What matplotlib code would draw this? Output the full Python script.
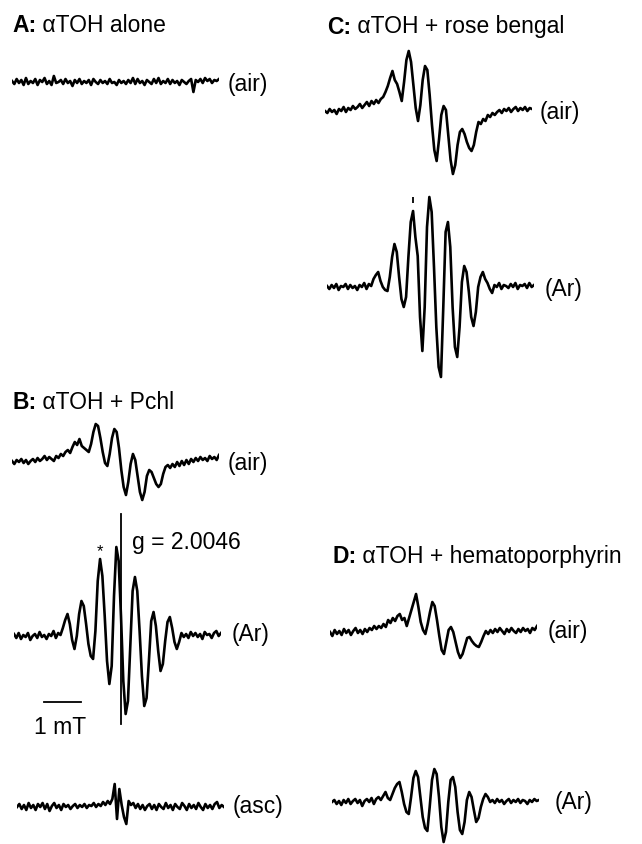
import numpy as np
import matplotlib
matplotlib.use('Agg')
from matplotlib import pyplot as plt

# ЭПР спектры, значения в px от базовой линии (вверх = +)
A_air = [1, -2, 3, -1, 2, -3, 4, -2, 1, -1, 3, -3, 2, 0, 4, -2, 1, -3, 6, -1,
         0, 2, -2, 3, -1, 1, -4, 2, -1, 3, -2, 1, -1, 2, -3, 3, 0, -2, 2, -1,
         1, -2, 3, -1, 0, -3, 2, -1, 1, -2, 2, -1, 4, -2, 3, -1, 1, -3, 2, 0,
         -2, 3, -1, 4, -2, 1, -1, 3, -2, 2, -1, 1, -3, 2, 0, -2, 1, 3, -10, 2,
         0, 3, -1, 4, 1, 3, -1, 2, 1, 3]

B_air = [1, -2, 2, 0, 3, -1, 2, -2, 1, 3, 0, 4, 1, 3, 6, 2, 5, 3, 1, 6,
         4, 8, 6, 10, 12, 9, 15, 20, 17, 23, 16, 14, 12, 10, 18, 30, 38, 36, 24, 10,
         -1, -4, 8, 24, 33, 30, 14, -8, -25, -33, -20, -2, 8, 2, -14, -30, -38, -30, -14, -8,
         -10, -16, -22, -25, -22, -12, -5, -3, -6, -2, -5, 0, -4, 1, -3, 2, -2, 3, 0, 4,
         1, 5, 2, 4, 1, 6, 3, 5, 2, 7]

B_Ar = [2, -2, 3, -3, 1, -1, 3, -4, 0, 2, -2, 4, -1, 1, -3, 2, 0, 5, -2, 3,
        1, 8, 16, 22, 12, -4, -13, 0, 22, 35, 30, 12, -8, -20, -23, 5, 55, 77, 60, 20,
        -25, -48, -30, 40, 89, 75, 20, -45, -78, -65, -10, 45, 59, 45, 5, -40, -70, -62, -25, 15,
        24, 10, -15, -35, -28, -5, 14, 19, 8, -6, -13, -6, 3, -1, 2, -2, 4, 0, 3, -1,
        2, -3, 4, 1, 2, -2, 3, 5, 0, 3]

B_asc = [0, 3, -2, 2, -3, 4, -1, 2, -3, 3, 0, 4, -2, 3, -4, 1, 4, -1, 2, -3,
         3, 0, 2, -2, 1, 3, -1, 2, 0, 3, -1, 2, 1, 4, 0, 3, 1, 5, 2, 6,
         3, 8, 23, -12, 18, 2, -10, -17, 6, 2, 4, -1, 3, -2, 2, -3, 1, 3, -2, 2,
         -3, 3, 0, -2, 4, -1, 2, -3, 3, 0, -2, 4, 1, -3, 3, -1, 2, -2, 4, 0,
         -3, 3, -1, 2, -2, 3, 5, -1, 2, 0]

C_air = [-1, -3, 1, -2, 0, -4, 1, -1, 3, -2, 2, 0, 4, 1, 3, 6, 2, 5, 8, 4,
         9, 6, 10, 7, 11, 13, 18, 24, 32, 39, 30, 26, 18, 9, 28, 50, 59, 48, 25, 2,
         -11, 5, 30, 44, 40, 15, -15, -40, -51, -30, -5, 4, 0, -25, -50, -64, -55, -35, -22, -19,
         -24, -32, -38, -41, -35, -22, -12, -14, -9, -11, -5, -7, -3, -5, -2, 0, -3, 1, -1, 2,
         -2, 1, 3, -1, 2, 0, 3, -1, 2, 1]

C_Ar = [1, -2, 2, -1, 3, -3, 1, 0, 3, -2, 2, -1, 1, -3, 2, 0, 4, -2, 3, 1,
        8, 12, 15, 6, 0, -3, -4, 10, 30, 43, 35, 10, -12, -20, -10, 30, 65, 76, 50, 31,
        -30, -64, -20, 60, 90, 75, 20, -40, -80, -90, -20, 55, 65, 40, -20, -60, -70, -40, 5, 21,
        15, -5, -30, -39, -25, 0, 10, 15, 8, 4, -2, -6, 2, 0, 4, -2, 2, 1, -1, 3,
        0, 4, -2, 2, 1, 3, -1, 4, 0, 2]

D_air = [0, -4, 2, -2, 1, -3, 3, -1, 2, -3, 1, 4, -1, 2, -2, 3, 0, 4, 2, 6,
         3, 6, 4, 8, 5, 12, 9, 14, 11, 16, 18, 12, 14, 6, 14, 22, 30, 38, 25, 10,
         2, -2, 8, 20, 30, 26, 12, -4, -18, -22, -10, 2, 5, 0, -10, -20, -26, -22, -14, -6,
         -5, -9, -12, -14, -15, -10, -4, 1, -2, 2, -1, 3, 0, 4, 1, -2, 3, 0, 4, 1,
         -1, 3, 0, 4, 1, 3, -1, 4, 2, 6]

D_Ar = [0, 2, -2, 1, -3, 2, -1, 3, -2, 1, 3, -1, 2, -4, 1, 3, 0, 4, -2, 3,
        5, 2, 6, 10, 4, 2, 8, 14, 18, 20, 10, -2, -10, -12, 5, 24, 31, 25, 5, -15,
        -26, -29, -5, 22, 33, 28, 5, -25, -40, -30, 0, 22, 25, 15, -10, -28, -32, -20, 2, 10,
        5, -8, -20, -16, -5, 3, 8, 5, 0, 2, -1, 3, 0, 2, -2, 1, 3, -1, 2, 0,
        3, -1, 2, 1, -2, 2, 0, 3, 1, 2]

# поле, мТ (ось развертки)
field = np.linspace(-2.8, 2.8, len(A_air))

W, H = 642, 845
plt.rcParams['font.family'] = ['Liberation Sans', 'DejaVu Sans']

fig = plt.figure(figsize=(W / 100, H / 100), dpi=100)


def trace_ax(x0, base):
  # оси одной кривой: ширина 207 px, 1 ед. = 1 px по вертикали
  ax = fig.add_axes([x0 / W, (H - base - 130) / H, 207 / W, 260 / H])
  ax.set_xlim(-2.8, 2.8)
  ax.set_ylim(-130, 130)
  ax.axis('off')
  return ax


traces = [
    (A_air, 12, 83),
    (B_air, 12, 463),
    (B_Ar, 14, 637),
    (B_asc, 17, 808),
    (C_air, 325, 111),
    (C_Ar, 327, 288),
    (D_air, 330, 633),
    (D_Ar, 332, 803),
]
axs = []
for vals, x0, base in traces:
  ax = trace_ax(x0, base)
  ax.plot(field, vals, color='k', lw=1.9, solid_joinstyle='round')
  axs.append(ax)

# g-маркер и масштаб 1 мТ на спектре B (Ar)
axB = axs[2]
axB.plot([0.1, 0.1], [-88, 122], color='k', lw=1.3)
axB.plot([-2.0, -1.0], [-66, -66], color='k', lw=1.3)

# метка над пиком C (Ar)
axC = axs[5]
axC.plot([field[37]], [87], marker='|', color='k', ms=5, mew=1.3)

# текст
top = fig.add_axes([0, 0, 1, 1])
top.set_xlim(0, W)
top.set_ylim(H, 0)
top.axis('off')
top.patch.set_alpha(0)

fs_t = 16.5
fs_l = 16.5

titles = [(12, 25, 'A:', ' αTOH alone'),
          (12, 403, 'B:', ' αTOH + Pchl'),
          (327, 27, 'C:', ' αTOH + rose bengal'),
          (332, 557, 'D:', ' αTOH + hematoporphyrin')]
for x, y, head, rest in titles:
  t = top.text(x, y, head, fontsize=fs_t, fontweight='bold', va='center')
  top.annotate(rest, xy=(1, 0.5), xycoords=t, fontsize=fs_t, va='center')

labels = [(228, 84, '(air)'), (228, 464, '(air)'), (232, 635, '(Ar)'),
          (233, 807, '(asc)'), (540, 113, '(air)'), (545, 290, '(Ar)'),
          (548, 632, '(air)'), (555, 803, '(Ar)')]
for x, y, s in labels:
  top.text(x, y, s, fontsize=fs_l, va='center')

top.text(132, 543, 'g = 2.0046', fontsize=fs_l, va='center')
top.text(100, 552, '*', fontsize=12, ha='center', va='center')
top.text(60, 728, '1 mT', fontsize=fs_l, ha='center', va='center')

fig.savefig('out.png', dpi=100)
